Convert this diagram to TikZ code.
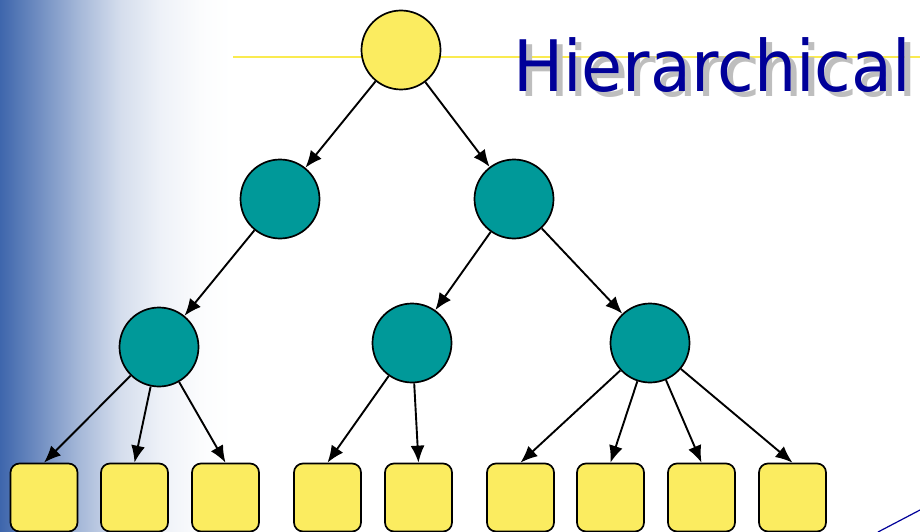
\documentclass[tikz,border=0pt]{standalone}
\usepackage{fontspec}
\newfontfamily\titlefont{DejaVu Sans}
\usetikzlibrary{arrows.meta}
\definecolor{nodeyellow}{RGB}{251,236,96}
\definecolor{nodeteal}{RGB}{0,153,153}
\definecolor{titleblue}{RGB}{0,0,153}
\definecolor{shadowgray}{RGB}{190,190,190}
\definecolor{sideblue}{RGB}{62,102,172}
\definecolor{ruleyellow}{RGB}{250,235,80}
% the shaded path spans 25bp..75bp of the declared shading
\pgfdeclarehorizontalshading{sidefade}{100bp}{%
  color(0bp)=(sideblue);
  color(25bp)=(sideblue);
  color(33.6bp)=(sideblue!73!white);
  color(42.2bp)=(sideblue!46!white);
  color(50.9bp)=(sideblue!22!white);
  color(59.5bp)=(sideblue!9!white);
  color(68.1bp)=(sideblue!2!white);
  color(75bp)=(white);
  color(100bp)=(white)}
\tikzset{
  tnode/.style={circle, draw=black, line width=1.7pt, minimum size=79pt, inner sep=0pt},
  rootnode/.style={tnode, fill=nodeyellow},
  midnode/.style={tnode, fill=nodeteal},
  leafnode/.style={rectangle, rounded corners=9pt, draw=black, line width=1.7pt,
    fill=nodeyellow, minimum width=67pt, minimum height=68pt, inner sep=0pt},
  link/.style={line width=1.9pt, -{Latex[length=17pt,width=14pt]}},
}
\begin{document}
\begin{tikzpicture}[x=1pt,y=-1pt]
\useasboundingbox (0,0) rectangle (920,532);
% left fading band
\shade[shading=sidefade] (0,0) rectangle (232,532);
% yellow rule under the title
\draw[ruleyellow, line width=2.2pt] (233,57) -- (920,57);
% title with drop shadow
\node[anchor=base west, text=shadowgray, inner sep=0pt, xscale=0.94]
  (titleshadow) at (519,97) {\titlefont\fontsize{71}{80}\selectfont Hierarchical};
\node[anchor=base west, text=titleblue, inner sep=0pt, xscale=0.94]
  (title) at (513,92) {\titlefont\fontsize{71}{80}\selectfont Hierarchical};
% tree nodes
\node[rootnode] (r) at (401,50) {};
\node[midnode] (a) at (280,199) {};
\node[midnode] (b) at (514,199) {};
\node[midnode] (c) at (159,347) {};
\node[midnode] (d) at (412,343) {};
\node[midnode] (e) at (650,343) {};
\foreach \i/\x in {1/44,2/134.5,3/225.5,4/327.5,5/418.5,6/520.5,7/610.5,8/701.5,9/792.5}
  \node[leafnode] (l\i) at (\x,497.5) {};
% connectors
\draw[link] (r) -- (a);
\draw[link] (r) -- (b);
\draw[link] (a) -- (c);
\draw[link] (b) -- (d);
\draw[link] (b) -- (e);
\foreach \i in {1,2,3} \draw[link] (c) -- (l\i.north);
\foreach \i in {4,5} \draw[link] (d) -- (l\i.north);
\foreach \i in {6,7,8,9} \draw[link] (e) -- (l\i.north);
% blue stroke in the lower right corner
\coordinate (s1) at (878,532);
\coordinate (s2) at (920,510);
\draw[titleblue, line width=1.2pt] (s1) -- (s2);
\end{tikzpicture}
\end{document}
